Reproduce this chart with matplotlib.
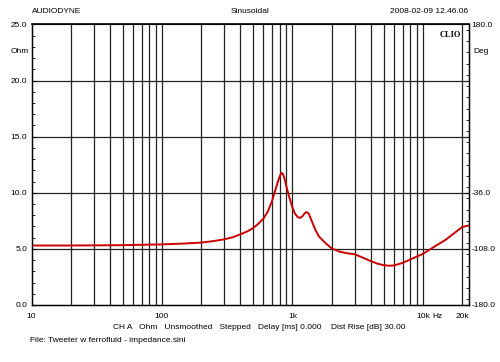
import numpy as np
import matplotlib
matplotlib.use("Agg")
import matplotlib.pyplot as plt
from matplotlib.ticker import FixedLocator, MultipleLocator, NullFormatter

freq_hz = [10, 20, 50, 100, 150, 200, 250, 300, 350, 400, 450, 500, 550, 600,
           650, 700, 750, 780, 800, 815, 830, 845, 860, 880, 900, 950, 1000,
           1050, 1100, 1150, 1200, 1240, 1270, 1300, 1340, 1400, 1500, 1600,
           1800, 2000, 2300, 2600, 3000, 3500, 4000, 4500, 5000, 5500, 6000,
           7000, 8000, 10000, 12000, 15000, 20000, 22400]
impedancia = [5.30, 5.30, 5.33, 5.40, 5.48, 5.56, 5.70, 5.85, 6.04, 6.30, 6.55,
              6.85, 7.25, 7.70, 8.35, 9.30, 10.45, 11.10, 11.45, 11.68, 11.76,
              11.68, 11.45, 11.05, 10.55, 9.55, 8.70, 8.12, 7.82, 7.76, 7.93,
              8.15, 8.26, 8.26, 8.10, 7.55, 6.70, 6.10, 5.50, 5.05, 4.75, 4.62,
              4.52, 4.20, 3.90, 3.68, 3.55, 3.50, 3.52, 3.75, 4.05, 4.55, 5.13,
              5.82, 6.94, 7.08]

x_ticks = [10, 100, 1000, 10000, 20000]
x_labels = ["10", "100", "1k", "10k", "20k"]
y_ticks = [0, 5, 10, 15, 20, 25]
y_labels = ["0.0", "5.0", "10.0", "15.0", "20.0", "25.0"]
deg_ticks = [-180, -108, -36, 180]
deg_labels = ["-180.0", "-108.0", "-36.0", "180.0"]

fuente = ["Liberation Sans", "DejaVu Sans"]
fs = 6

fig = plt.figure(figsize=(5.0, 3.62), dpi=100)
ax = fig.add_axes([0.063, 0.1575, 0.874, 0.775])

# Rejilla: 20..100, 200..1k, 2k..10k y 20k
grid_f = [f * d for d in (10, 100, 1000) for f in range(2, 11)] + [20000]
for f in grid_f:
    ax.axvline(f, color="#222222", lw=0.9, zorder=1)
for v in (5, 10, 15, 20):
    ax.axhline(v, color="#222222", lw=0.9, zorder=1)

ax.plot(freq_hz, impedancia, color="#cc0000", lw=1.4, zorder=3)

ax.set_xscale("log")
ax.set_xlim(10, 22400)
ax.set_ylim(0, 25)
ax.set_xticks(x_ticks, x_labels)
ax.xaxis.set_minor_locator(FixedLocator([]))
ax.xaxis.set_minor_formatter(NullFormatter())
ax.tick_params(axis="x", length=0, pad=6)
ax.set_yticks(y_ticks, y_labels)
ax.yaxis.set_minor_locator(MultipleLocator(1))
ax.tick_params(axis="y", direction="in", length=3, width=0.8, pad=3)
ax.tick_params(axis="y", which="minor", direction="in", length=2, width=0.6)
for lab in ax.get_xticklabels() + ax.get_yticklabels():
    lab.set_family(fuente)
    lab.set_fontsize(fs)
for s in ax.spines.values():
    s.set_linewidth(1.0)
ax.spines["top"].set_linewidth(1.2)

# Eje derecho en grados
ax2 = ax.twinx()
ax2.set_ylim(-180, 180)
ax2.set_yticks(deg_ticks, deg_labels)
ax2.yaxis.set_minor_locator(MultipleLocator(14.4))
ax2.tick_params(axis="y", direction="in", length=3, width=0.8, pad=2)
ax2.tick_params(axis="y", which="minor", direction="in", length=2, width=0.6)
for lab in ax2.get_yticklabels():
    lab.set_family(fuente)
    lab.set_fontsize(fs)

# Textos
ax.text(-0.005, 22.6, "Ohm", transform=ax.get_yaxis_transform(), ha="right",
        va="center", fontsize=fs, family=fuente)
ax.text(1.012, 22.6, "Deg", transform=ax.get_yaxis_transform(), ha="left",
        va="center", fontsize=fs, family=fuente)
ax.text(12900, -0.027, "Hz", transform=ax.get_xaxis_transform(), ha="center",
        va="top", fontsize=fs, family=fuente)
ax.text(0.982, 0.975, "CLIO", transform=ax.transAxes, ha="right", va="top",
        fontsize=6, family=["Liberation Serif", "DejaVu Serif"],
        fontweight="bold")

fig.text(0.064, 0.967, "AUDIODYNE", fontsize=fs, family=fuente, va="center")
fig.text(0.50, 0.967, "Sinusoidal", fontsize=fs, family=fuente, va="center",
         ha="center")
fig.text(0.937, 0.967, "2008-02-09 12.46.06", fontsize=fs, family=fuente,
         va="center", ha="right")
fig.text(0.226, 0.095,
         "CH A   Ohm   Unsmoothed   Stepped   Delay [ms] 0.000    Dist Rise [dB] 30.00",
         fontsize=fs, family=fuente, va="center")
fig.text(0.06, 0.060, "File: Tweeter w ferrofluid - impedance.sini",
         fontsize=fs, family=fuente, va="center")

fig.savefig("out.png", dpi=100)
